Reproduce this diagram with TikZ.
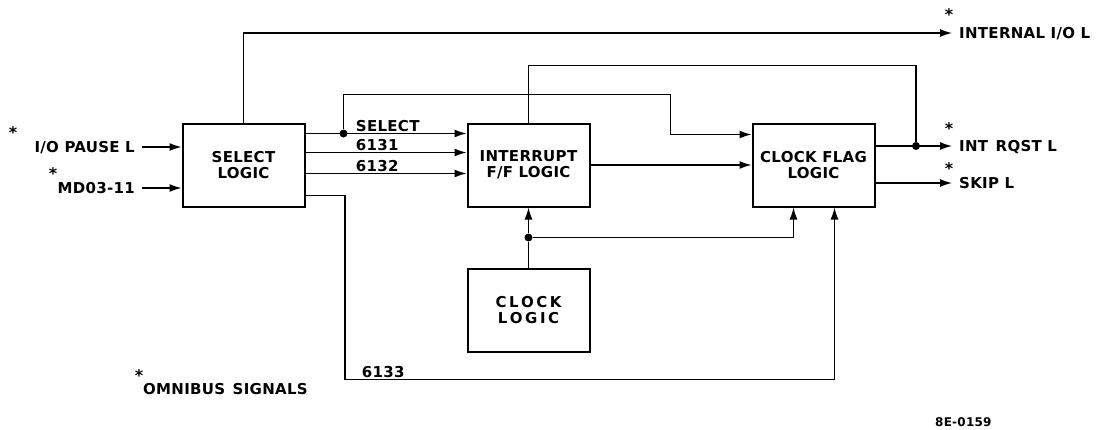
\documentclass[tikz,border=0pt]{standalone}
\usepackage{fontspec}
\usepackage{tikz}
\usetikzlibrary{arrows.meta, positioning, calc}
\newfontfamily\lettering{DejaVu Sans}[LetterSpace=2]
\tikzset{
  block/.style={
    rectangle, draw=black, line width=2pt,
    minimum width=122pt, minimum height=83pt,
    align=center, inner sep=0pt,
    font=\lettering\bfseries\fontsize{15pt}{16pt}\selectfont
  },
  sig/.style={
    inner xsep=7pt, inner ysep=0pt,
    text height=11pt, text depth=0pt,
    font=\lettering\bfseries\fontsize{15pt}{16pt}\selectfont
  },
  tag/.style={inner sep=1.5pt, font=\lettering\bfseries\fontsize{15pt}{16pt}\selectfont},
  asterisk/.style={inner sep=0pt, font=\lettering\bfseries\fontsize{16pt}{16pt}\selectfont},
  note/.style={inner sep=0pt, font=\lettering\bfseries\fontsize{12pt}{12pt}\selectfont},
  wire/.style={line width=1.3pt, black},
  arrow/.style={wire, -{Latex[length=12pt, width=8pt]}},
  junction/.style={circle, fill=black, inner sep=0pt, minimum size=8pt}
}
\begin{document}
\begin{tikzpicture}[x=1pt, y=-1pt, node distance=60pt and 161pt]
  \useasboundingbox (0,0) rectangle (1096,429);

  \node[block] (sel) at (243.5,165) {SELECT\\LOGIC};
  \node[block, right=of sel] (intr) {INTERRUPT\\F/F LOGIC};
  \node[block, right=of intr] (flag) {CLOCK FLAG\\LOGIC};
  \node[block, below=of intr] (clk) {C\,L\,O\,C\,K\\L\,O\,G\,I\,C};

  % omnibus signals
  \node[sig, anchor=east] (pause) at (142,147) {I/O PAUSE L};
  \node[sig, anchor=east] (md) at (142,188) {MD03-11};
  \node[sig, anchor=west] (intio) at (952,33) {INTERNAL I/O L};
  \node[sig, anchor=west] (rqst) at (952,146) {INT\enspace RQST L};
  \node[sig, anchor=west] (skip) at (952,183) {SKIP L};
  \node[sig, anchor=west, inner xsep=0pt] (omni) at (143,389) {OMNIBUS\enspace SIGNALS};

  \node[asterisk] (a1) at (13,133) {*};
  \node[asterisk] (a2) at (53,174) {*};
  \node[asterisk] (a3) at (949,15) {*};
  \node[asterisk] (a4) at (949,129) {*};
  \node[asterisk] (a5) at (949,169) {*};
  \node[asterisk] (a6) at (139,376) {*};

  \draw[arrow] (pause) -- (pause -| sel.west);
  \draw[arrow] (md) -- (md -| sel.west);
  \draw[arrow] (sel.north) |- (intio);

  \coordinate (s1) at ($(sel.north east)+(0,11)$);
  \coordinate (s2) at ($(sel.north east)+(0,30)$);
  \coordinate (s3) at ($(sel.north east)+(0,51)$);
  \coordinate (s4) at ($(sel.south east)+(0,-12)$);

  \draw[arrow] (s1) -- node[tag, above right, pos=0.3] (lsel) {SELECT} (s1 -| intr.west);
  \draw[arrow] (s2) -- node[tag, above right, pos=0.3] (l6131) {6131} (s2 -| intr.west);
  \draw[arrow] (s3) -- node[tag, above right, pos=0.3] (l6132) {6132} (s3 -| intr.west);

  \node[junction] (d1) at ($(s1)+(38,0)$) {};
  \coordinate (f1) at ($(flag.north west)+(0,12)$);
  \draw[arrow] (d1) |- ($(f1)+(-81,-40)$) |- (f1);

  \draw[arrow] (intr.east) -- (intr.east -| flag.west);
  \draw[arrow] (rqst -| flag.east) -- (rqst);
  \draw[arrow] (skip -| flag.east) -- (skip);

  \node[junction] (d2) at ($(rqst -| flag.east)+(40.5,0)$) {};
  \draw[wire] (d2) |- ($(intr.north)+(0,-57)$) -- (intr.north);

  % clock
  \node[junction] (d3) at ($(clk.north)!0.5!(intr.south)$) {};
  \draw[wire] (clk.north) -- (d3);
  \draw[arrow] (d3) -- (intr.south);
  \coordinate (b0) at ($(flag.south)+(-20,0)$);
  \coordinate (b1) at ($(flag.south)+(21,0)$);
  \draw[arrow] (d3) -| (b0);
  \draw[arrow] (s4) -- ++(39.5,0) -- ++(0,184) -| node[tag, above right, pos=0.015] (l6133) {6133} (b1);

  \node[note, anchor=west] (code) at (935,422) {8E-0159};
\end{tikzpicture}
\end{document}
